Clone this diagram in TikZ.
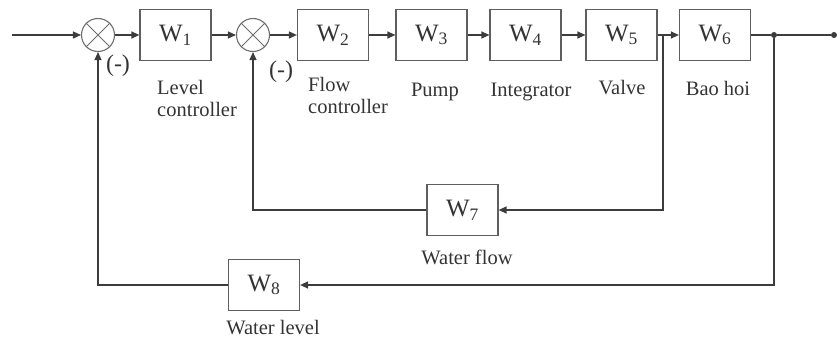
\documentclass[tikz,border=0pt]{standalone}
\usepackage{fontspec}
\setmainfont{Liberation Serif}
\usetikzlibrary{arrows.meta, positioning, calc}

\begin{document}
\begin{tikzpicture}[
    x=1pt, y=1pt,
    >={Triangle[length=8pt, width=7pt]},
    every node/.style={text=black!80},
    block/.style={
      rectangle, draw=boxGray, line width=1.2pt,
      minimum width=71pt, minimum height=51pt, inner sep=0pt,
      font=\fontsize{25}{25}\selectfont
    },
    sumnode/.style={circle, draw=sumGray, line width=1.1pt, minimum size=33pt, inner sep=0pt},
    caption/.style={font=\fontsize{20.5}{22}\selectfont, inner sep=0pt},
    sign/.style={font=\fontsize{24}{24}\selectfont, inner sep=0pt},
    wire/.style={draw=lineGray, line width=1.3pt},
    arr/.style={wire, ->},
    dot/.style={circle, fill=lineGray, minimum size=6pt, inner sep=0pt}
  ]
    \definecolor{lineGray}{RGB}{60,60,60}
    \definecolor{boxGray}{RGB}{95,95,95}
    \definecolor{sumGray}{RGB}{110,110,110}

    \useasboundingbox (0,0) rectangle (837,341);

    % forward path
    \coordinate (in) at (12,306);
    \node[sumnode] (sum1) at (98,306) {};
    \node[block] (w1) at (175.5,306) {W\textsubscript{1}};
    \node[sumnode] (sum2) at (253,306) {};
    \node[block] (w2) at (333,306) {W\textsubscript{2}};
    \node[block] (w3) at (431.5,306) {W\textsubscript{3}};
    \node[block] (w4) at (525.5,306) {W\textsubscript{4}};
    \node[block] (w5) at (621.5,306) {W\textsubscript{5}};
    \node[block] (w6) at (715,306) {W\textsubscript{6}};
    \node[dot] (tap) at (774,306) {};
    \node[dot] (out) at (834,306) {};

    % feedback blocks
    \node[block] (w7) at (462.5,131) {W\textsubscript{7}};
    \node[block] (w8) at (264,56) {W\textsubscript{8}};

    \foreach \s in {sum1,sum2}
      \draw[sumGray, line width=1pt] (\s.north west) -- (\s.south east) (\s.north east) -- (\s.south west);

    \node[sign] (minus1) at (118,275) {(-)};
    \node[sign] (minus2) at (281,269) {(-)};
    \node[caption, align=left, anchor=west] (lblW1) at (157,243) {Level\\controller};
    \node[caption, align=left, anchor=west] (lblW2) at (308,246) {Flow\\controller};
    \node[caption] (lblW3) at (435,249) {Pump};
    \node[caption] (lblW4) at (531,249) {Integrator};
    \node[caption] (lblW5) at (622,253) {Valve};
    \node[caption] (lblW6) at (718,253) {Bao hoi};
    \node[caption] (lblW7) at (467,84) {Water flow};
    \node[caption] (lblW8) at (273,13) {Water level};

    \draw[arr] (in) -- (sum1.west);
    \draw[arr] (sum1) -- (w1);
    \draw[arr] (w1) -- (sum2);
    \draw[arr] (sum2) -- (w2);
    \draw[arr] (w2) -- (w3);
    \draw[arr] (w3) -- (w4);
    \draw[arr] (w4) -- (w5);
    \draw[arr] (w5) -- (w6);
    \draw[wire] (w6) -- (tap) -- (out);

    \coordinate (fork) at ($(w5.east)!0.26!(w6.west)$);
    \draw[arr] (fork) |- (w7.east);
    \draw[arr] (w7.west) -| (sum2.south);
    \draw[arr] (tap) |- (w8.east);
    \draw[arr] (w8.west) -| (sum1.south);
  \end{tikzpicture}
\end{document}
